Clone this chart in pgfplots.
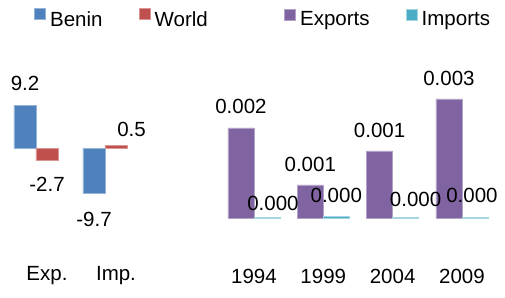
\documentclass[border=0pt]{standalone}
\usepackage{pgfplots}
\pgfplotsset{compat=1.18}
\usepackage{pgfplotstable}
\usepackage{fontspec}
\setmainfont{Liberation Sans}
\definecolor{cBenin}{HTML}{4F81BD}
\definecolor{cWorld}{HTML}{C0504D}
\definecolor{cExp}{HTML}{8064A2}
\definecolor{cImp}{HTML}{4BACC6}

\pgfplotstableread{
x y dx dy lab
0 9.2 0 22 9.2
1 -9.7 0 -26 -9.7
}\benin
\pgfplotstableread{
x y dx dy lab
0 -2.7 0 -23.5 -2.7
1 0.5 15.5 16 0.5
}\world
\pgfplotstableread{
x y dx dy lab
0 0.00196 0 21 0.002
1 0.00072 0 20.5 0.001
2 0.00146 0 20.5 0.001
3 0.00259 0 20 0.003
}\exports
\pgfplotstableread{
x y dx dy lab
0 0.00001 6 14 0.000
1 0.00004 0 21 0.000
2 0.00001 10 18.5 0.000
3 0.00001 -3 22.5 0.000
}\imports

\pgfplotsset{
  sqlegend/.style={legend image code/.code={\fill[##1] (0pt,0.5pt) rectangle (11pt,11.5pt);}},
  common/.style={
    scale only axis, clip=false, ybar=0pt,
    axis line style={draw=none}, tick style={draw=none}, major tick length=0pt,
    ytick=\empty,
    sqlegend,
    legend columns=-1,
    legend style={draw=none, fill=none, inner sep=0pt, outer sep=0pt, anchor=west,
      /tikz/every even column/.append style={column sep=34pt},
      /tikz/every odd column/.append style={column sep=2.5pt}},
  },
  lbl/.style={
    nodes near coords,
    point meta=explicit symbolic,
    visualization depends on={\thisrow{dx} \as \dx},
    visualization depends on={\thisrow{dy} \as \dy},
    nodes near coords align={anchor=center},
    nodes near coords style={anchor=center, xshift=\dx pt, yshift=\dy pt, text=black},
  },
}

\begin{document}
\fontsize{20.5}{24}\selectfont
\begin{tikzpicture}
\useasboundingbox (0pt,0pt) rectangle (505pt,297pt);
\begin{axis}[common,
  at={(1.5pt,93pt)}, anchor=south west,
  width=138pt, height=112pt,
  xmin=-0.5, xmax=1.5, ymin=-12, ymax=12,
  bar width=22pt,
  xtick={0,1}, xticklabels={Exp.,Imp.},
  xticklabel style={anchor=center, xshift=11pt, yshift=-72pt},
  legend style={at={(axis description cs:0.2355,1.645)}},
]
\addplot[lbl, fill=cBenin, draw=cBenin!60!white, line width=0.6pt] table[x=x,y=y,meta=lab] {\benin};
\addplot[lbl, fill=cWorld, draw=cWorld!60!white, line width=0.6pt] table[x=x,y=y,meta=lab] {\world};
\legend{Benin,World}
\end{axis}
\begin{axis}[common,
  at={(219.3pt,79pt)}, anchor=south west,
  width=277.3pt, height=138pt,
  xmin=-0.5, xmax=3.5, ymin=0, ymax=0.003,
  bar width=26pt,
  xtick={0,1,2,3}, xticklabels={1994,1999,2004,2009},
  xticklabel style={anchor=center, yshift=-58pt},
  legend style={at={(axis description cs:0.2333,1.437)}},
]
\addplot[lbl, fill=cExp, draw=cExp!60!white, line width=0.6pt] table[x=x,y=y,meta=lab] {\exports};
\addplot[lbl, fill=cImp, draw=cImp!50!white, line width=0.6pt] table[x=x,y=y,meta=lab] {\imports};
\legend{Exports,Imports}
\end{axis}
\end{tikzpicture}
\end{document}
